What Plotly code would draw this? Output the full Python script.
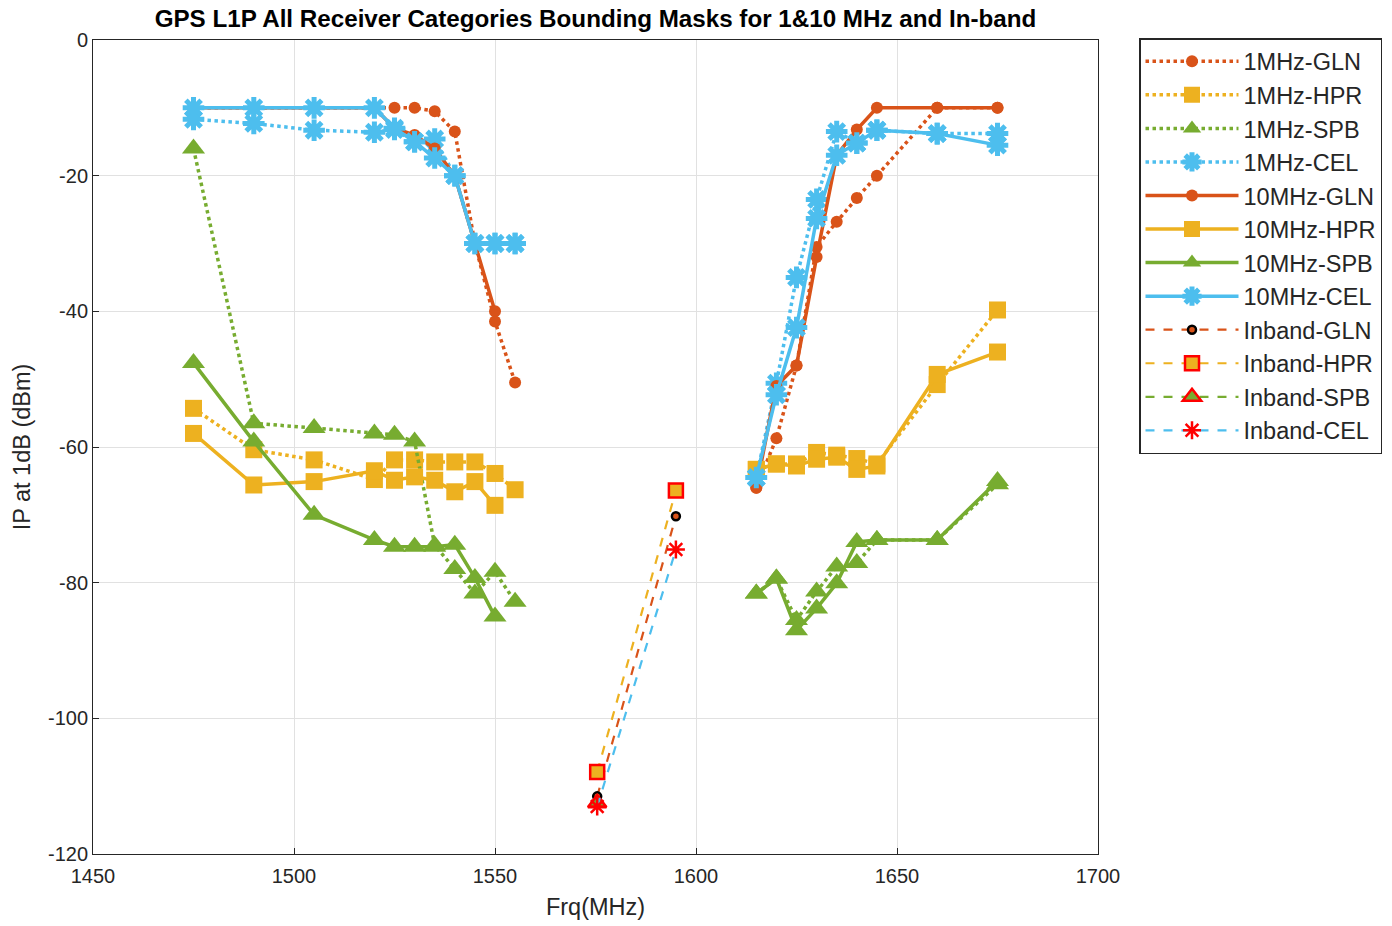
import plotly.graph_objects as go

# ---------------- data ----------------
freq_left = [1475, 1490, 1505, 1520, 1525, 1530, 1535, 1540, 1545, 1550, 1555]
freq_right = [1615, 1620, 1625, 1630, 1635, 1640, 1645, 1660, 1675]
freq_inband = [1575.42, 1595]

gln_1m_left = [-10, -10, -10, -10, -10, -10, -10.5, -13.5, -30, -41.5, -50.5]
hpr_1m_left = [-54.3, -60.4, -61.9, -64.8, -61.9, -61.9, -62.2, -62.2, -62.2, -63.9, -66.3]
spb_1m_left = [-16, -56.5, -57.2, -58, -58.2, -59.2, -74.5, -78, -81.6, -78.4, -82.8]
cel_1m_left = [-11.7, -12.3, -13.3, -13.6, -13.2, -15, -14.6, -20, -30, -30, -30]

gln_10m_left = [-10, -10, -10, -10, -13, -14, -16, -20, -30, -40, None]
hpr_10m_left = [-58, -65.6, -65.1, -63.5, -64.9, -64.4, -64.9, -66.6, -65.1, -68.6, None]
spb_10m_left = [-47.6, -59.2, -70, -73.7, -74.7, -74.7, -74.7, -74.4, -79.3, -85, None]
cel_10m_left = [-10, -10, -10, -10, -13, -15, -17.4, -20, -30, -30, -30]

gln_1m_right = [-66, -58.7, -48, -30.5, -26.8, -23.3, -20, -10, -10]
hpr_1m_right = [-63.3, -62.5, -62.5, -60.8, -61.2, -61.7, -62.5, -50.8, -39.8]
spb_1m_right = [-81.6, -79.4, -85.5, -81.3, -77.6, -77.1, -73.7, -73.7, -65.5]
cel_1m_right = [-64.5, -50.6, -35, -23.5, -13.5, -15.2, -13.3, -13.8, -13.8]

gln_10m_right = [-66, -51, -48, -32, -17, -13.2, -10, -10, -10]
hpr_10m_right = [-63.3, -62.5, -62.8, -61.8, -61.5, -63.3, -62.8, -49.3, -46]
spb_10m_right = [-81.6, -79.4, -87, -83.8, -80.1, -74, -73.7, -73.7, -65]
cel_10m_right = [-64.5, -52.3, -42.4, -26.3, -17, -15.2, -13.3, -13.8, -15.5]

gln_inband = [-111.5, -70.2]
hpr_inband = [-107.9, -66.4]
spb_inband = [-112.5, None]
cel_inband = [-113, -75.1]

names_1m = ["1MHz-GLN", "1MHz-HPR", "1MHz-SPB", "1MHz-CEL"]
names_10m = ["10MHz-GLN", "10MHz-HPR", "10MHz-SPB", "10MHz-CEL"]
names_inband = ["Inband-GLN", "Inband-HPR", "Inband-SPB", "Inband-CEL"]

# ---------------- styles ----------------
C_ORANGE = "#D95319"
C_YELLOW = "#EDB120"
C_GREEN = "#77AC30"
C_BLUE = "#4DBEEE"
colors = [C_ORANGE, C_YELLOW, C_GREEN, C_BLUE]

def mk(i, color):
    if i == 0:
        return dict(symbol="circle", size=12, color=color, line=dict(width=0))
    if i == 1:
        return dict(symbol="square", size=17, color=color, line=dict(width=0))
    if i == 2:
        return dict(symbol="triangle-up", size=20, color=color, line=dict(width=0))
    return dict(symbol="asterisk-open", size=18, color=color, line=dict(width=5, color=color))

def joined(left, right):
    return freq_left + [None] + freq_right, left + [None] + right

fig = go.Figure()

sets_1m = [(gln_1m_left, gln_1m_right), (hpr_1m_left, hpr_1m_right),
           (spb_1m_left, spb_1m_right), (cel_1m_left, cel_1m_right)]
sets_10m = [(gln_10m_left, gln_10m_right), (hpr_10m_left, hpr_10m_right),
            (spb_10m_left, spb_10m_right), (cel_10m_left, cel_10m_right)]

for i, (l, r) in enumerate(sets_1m):
    x, y = joined(l, r)
    fig.add_trace(go.Scatter(x=x, y=y, mode="lines+markers", name=names_1m[i],
                             legendgroup=names_1m[i],
                             line=dict(color=colors[i], width=3.5, dash="dot"),
                             marker=mk(i, colors[i]), connectgaps=False))
for i, (l, r) in enumerate(sets_10m):
    x, y = joined(l, r)
    fig.add_trace(go.Scatter(x=x, y=y, mode="lines+markers", name=names_10m[i],
                             legendgroup=names_10m[i],
                             line=dict(color=colors[i], width=3.5),
                             marker=mk(i, colors[i]), connectgaps=False))

inband_vals = [gln_inband, hpr_inband, spb_inband, cel_inband]
inband_markers = [
    dict(symbol="circle", size=8, color=C_ORANGE, line=dict(width=2.5, color="black")),
    dict(symbol="square", size=14, color=C_YELLOW, line=dict(width=2.5, color="red")),
    dict(symbol="triangle-up", size=16, color=C_GREEN, line=dict(width=2.5, color="red")),
    dict(symbol="asterisk-open", size=15, color="red", line=dict(width=2.5, color="red")),
]
for i, vals in enumerate(inband_vals):
    fig.add_trace(go.Scatter(x=freq_inband, y=vals, mode="lines+markers", name=names_inband[i],
                             legendgroup=names_inband[i],
                             line=dict(color=colors[i], width=2.2, dash="dash"),
                             marker=inband_markers[i]))

x_ticks = [1450, 1500, 1550, 1600, 1650, 1700]
y_ticks = [-120, -100, -80, -60, -40, -20, 0]

AX = "#262626"
fig.update_layout(
    width=1392, height=926,
    margin=dict(l=93, r=294, t=40, b=72),
    paper_bgcolor="white", plot_bgcolor="white",
    font=dict(family="Liberation Sans, Arial, sans-serif", color=AX),
    title=dict(text="<b>GPS L1P All Receiver Categories Bounding Masks for 1&10 MHz and In-band</b>",
               x=0.5, xref="paper", xanchor="center",
               y=1 - 19 / 926, yref="container", yanchor="middle",
               font=dict(size=24.2, color="black")),
    xaxis=dict(range=[1450, 1700], tickvals=x_ticks, ticktext=[str(v) for v in x_ticks],
               showline=True, linecolor=AX, linewidth=1, mirror=True,
               ticks="inside", ticklen=6, tickcolor=AX,
               showgrid=True, gridcolor="#e1e1e1", zeroline=False,
               tickfont=dict(size=20), ticklabelstandoff=4,
               title=dict(text="Frq(MHz)", font=dict(size=23.5), standoff=12)),
    yaxis=dict(range=[-120, 0], tickvals=y_ticks, ticktext=[str(v) for v in y_ticks],
               showline=True, linecolor=AX, linewidth=1, mirror=True,
               ticks="inside", ticklen=6, tickcolor=AX,
               showgrid=True, gridcolor="#e1e1e1", zeroline=False,
               tickfont=dict(size=20),
               title=dict(text="IP at 1dB (dBm)", font=dict(size=23.5), standoff=10)),
    legend=dict(xref="container", yref="container",
                x=1139 / 1392, y=1 - 38 / 926, xanchor="left", yanchor="top",
                bordercolor=AX, borderwidth=1.5, bgcolor="white",
                font=dict(size=23.5, color=AX), itemwidth=93, tracegroupgap=5.6,
                traceorder="normal"),
    showlegend=True,
)

fig.write_html("out.html")
